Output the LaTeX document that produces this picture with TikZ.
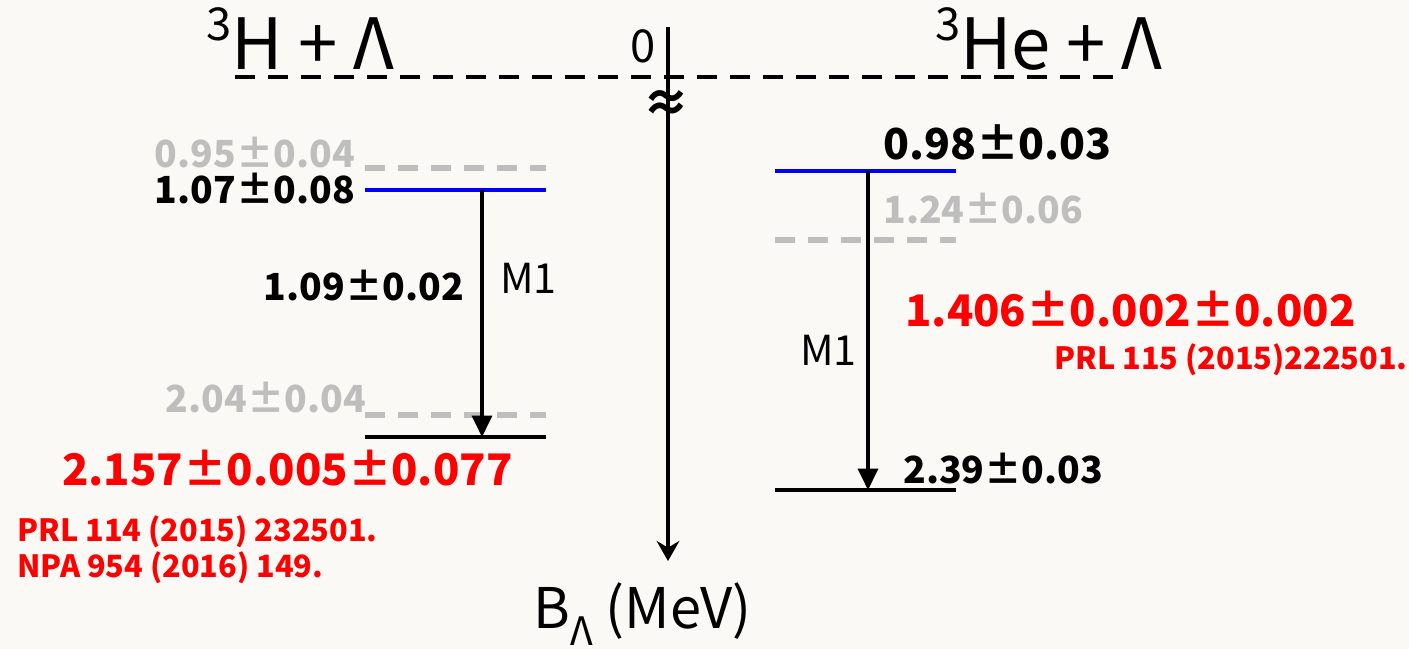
\documentclass[tikz,border=0pt]{standalone}
\usepackage{fontspec}
\setmainfont{Noto Sans CJK SC}
\usetikzlibrary{arrows.meta}
\definecolor{bg}{HTML}{FAF9F5}
\definecolor{lvgray}{HTML}{BEBEBE}
\definecolor{lvred}{HTML}{FF0000}
\definecolor{lvblue}{HTML}{0000FF}
\newcommand{\supthree}{\raisebox{0.42em}{\fontsize{34}{34}\selectfont 3}}
\tikzset{
  lbl/.style={inner sep=0pt, font=\fontsize{28}{30}\selectfont\bfseries},
  graylbl/.style={lbl, text=lvgray},
  redbig/.style={inner sep=0pt, text=lvred, font=\fontsize{32.6}{36}\selectfont\bfseries},
  refs/.style={inner sep=0pt, text=lvred, font=\fontsize{23}{27}\selectfont\bfseries, align=left},
  mlbl/.style={inner sep=0pt, font=\fontsize{31}{33}\selectfont},
  title/.style={inner sep=0pt, font=\fontsize{53}{56}\selectfont},
  solidlev/.style={line width=3pt},
  graylev/.style={line width=3.8pt, lvgray, dash pattern=on 15pt off 9.75pt},
  trans/.style={line width=2.4pt, -{Triangle[width=15pt,length=16pt]}},
}
\begin{document}
\begin{tikzpicture}[x=0.75pt,y=-0.75pt]
\fill[bg] (0,0) rectangle (1409,649);
\useasboundingbox (0,0) rectangle (1409,649);

% threshold line and axis
\coordinate (thrL) at (235,77);
\coordinate (thrR) at (1124,77);
\draw[line width=3.2pt, dash pattern=on 15pt off 9.75pt] (thrL) -- (thrR);
\coordinate (axtop) at (668,27);
\coordinate (axbot) at (668,561);
\draw[line width=2.6pt, -{Stealth[width=17pt,length=15pt,inset=5pt]}] (axtop) -- (axbot);
\node[inner sep=0pt, font=\fontsize{36}{36}\selectfont\bfseries] (brk) at (666,106) {≈};
\node[inner sep=0pt, anchor=base east, font=\fontsize{34}{36}\selectfont] (zero) at (656,63) {0};
\node[title, anchor=base west] (tH) at (206,70) {\supthree H + Λ};
\node[title, anchor=base west] (tHe) at (935,70) {\supthree He + Λ};
\node[inner sep=0pt, anchor=base west, font=\fontsize{42}{44}\selectfont] (axlbl) at (533,628) {B\textsubscript{Λ} (MeV)};

% left: 3H-Lambda
\coordinate (lg1a) at (365,168); \coordinate (lg1b) at (546,168);
\draw[graylev] (lg1a) -- (lg1b);
\coordinate (lb1a) at (365,190); \coordinate (lb1b) at (546,190);
\draw[solidlev, lvblue] (lb1a) -- (lb1b);
\coordinate (lg2a) at (365,415); \coordinate (lg2b) at (546,415);
\draw[graylev] (lg2a) -- (lg2b);
\coordinate (lk1a) at (365,437); \coordinate (lk1b) at (546,437);
\draw[solidlev] (lk1a) -- (lk1b);
\coordinate (ltop) at (482,190); \coordinate (lbot) at (482,437);
\draw[trans] (ltop) -- (lbot);

\node[graylbl, anchor=base east] (l095) at (355,167) {0.95±0.04};
\node[lbl, anchor=base east] (l107) at (355,204) {1.07±0.08};
\node[lbl, anchor=base east] (l109) at (464,300) {1.09±0.02};
\node[mlbl, anchor=base west] (lm1) at (500,293) {M1};
\node[graylbl, anchor=base east] (l204) at (366,412) {2.04±0.04};
\node[redbig, anchor=base west] (l2157) at (62,485) {2.157±0.005±0.077};
\node[refs, anchor=base west] (lref1) at (17,541) {PRL 114 (2015) 232501.};
\node[refs, anchor=base west] (lref2) at (17,577) {NPA 954 (2016) 149.};

% right: 3He-Lambda
\coordinate (rb1a) at (775,171); \coordinate (rb1b) at (956,171);
\draw[solidlev, lvblue] (rb1a) -- (rb1b);
\coordinate (rg1a) at (775,240); \coordinate (rg1b) at (956,240);
\draw[graylev] (rg1a) -- (rg1b);
\coordinate (rk1a) at (775,490); \coordinate (rk1b) at (956,490);
\draw[solidlev] (rk1a) -- (rk1b);
\coordinate (rtop) at (868,171); \coordinate (rbot) at (868,490);
\draw[trans] (rtop) -- (rbot);

\node[lbl, anchor=base west, font=\fontsize{32}{34}\selectfont\bfseries] (r098) at (883,160) {0.98±0.03};
\node[graylbl, anchor=base west] (r124) at (883,223) {1.24±0.06};
\node[mlbl, anchor=base west] (rm1) at (800,365) {M1};
\node[redbig, anchor=base west] (r1406) at (905,326) {1.406±0.002±0.002};
\node[refs, anchor=base west] (rref) at (1054,369) {PRL 115 (2015)222501.};
\node[lbl, anchor=base west] (r239) at (903,483) {2.39±0.03};
\end{tikzpicture}
\end{document}
